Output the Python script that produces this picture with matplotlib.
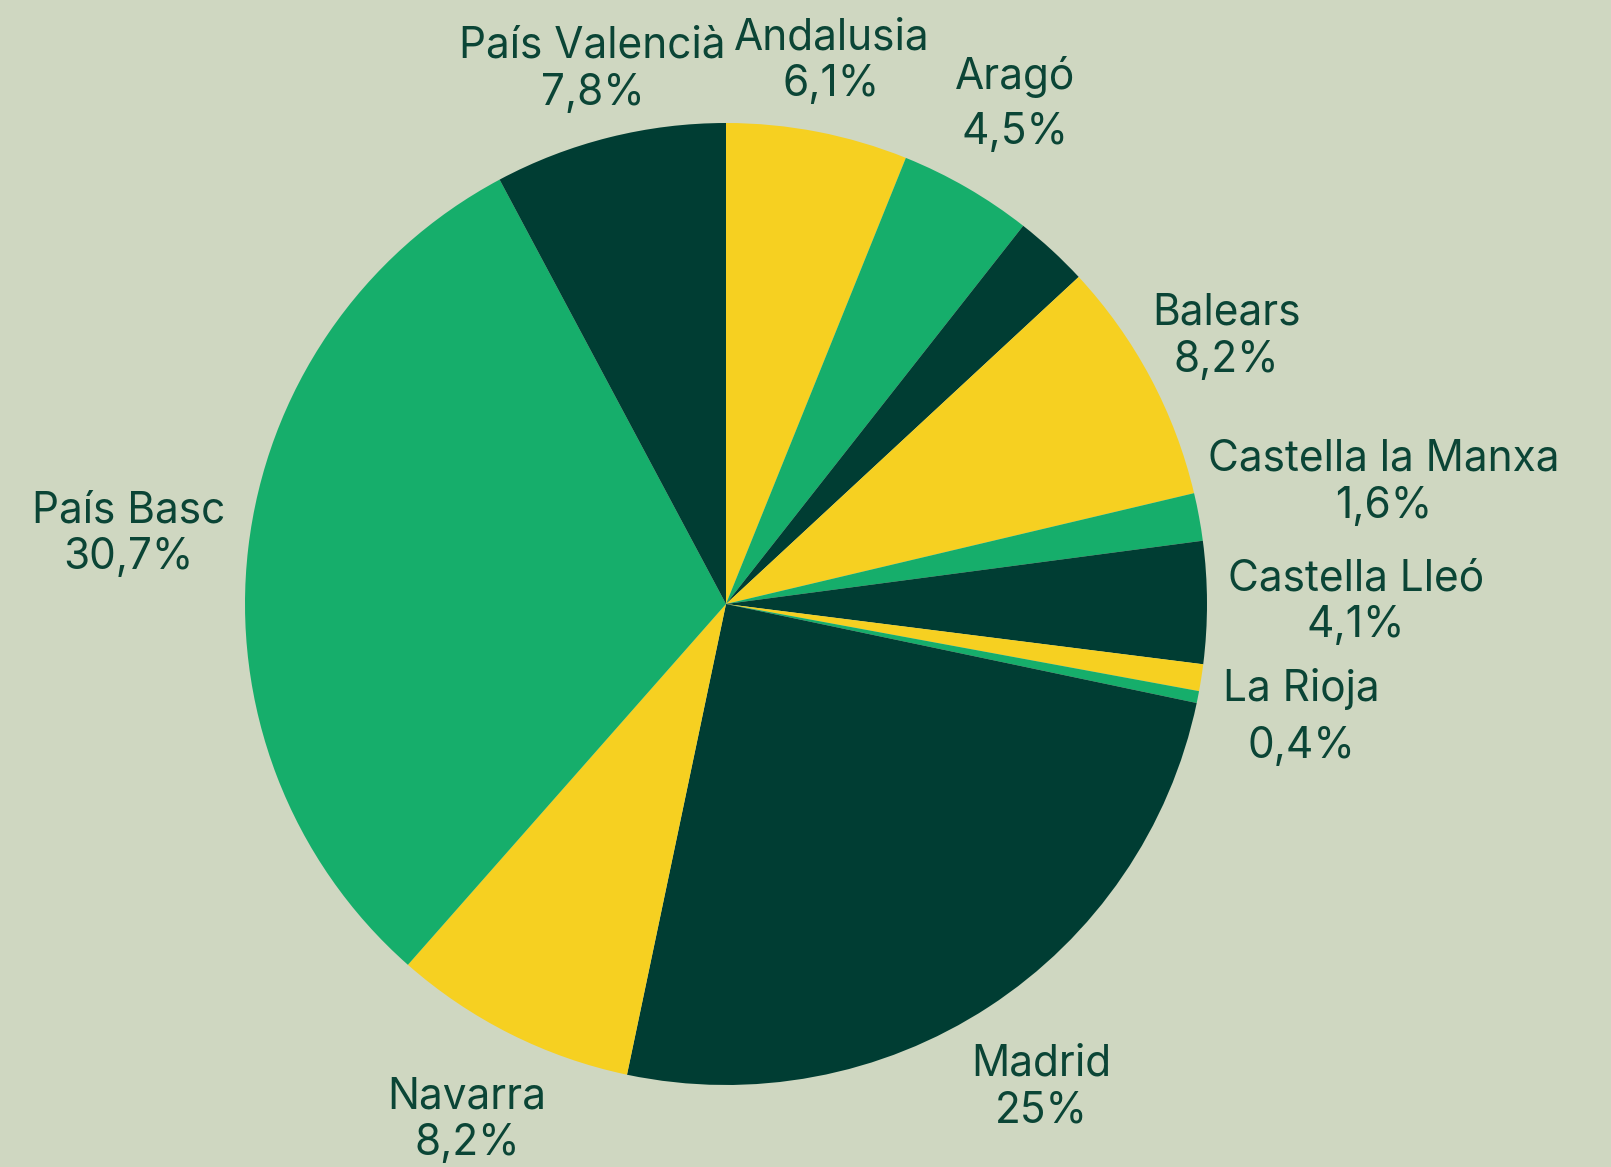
import matplotlib.pyplot as plt
import numpy as np

# slices clockwise from 12 o'clock; "" = unlabelled slice
regions = ["Andalusia", "Aragó", "", "Balears", "Castella la Manxa",
           "Castella Lleó", "", "La Rioja", "Madrid", "Navarra",
           "País Basc", "País Valencià"]
shares = [6.1, 4.5, 2.5, 8.2, 1.6, 4.1, 0.9, 0.4, 25.0, 8.2, 30.7, 7.8]
share_text = ["6,1%", "4,5%", "", "8,2%", "1,6%", "4,1%", "", "0,4%",
              "25%", "8,2%", "30,7%", "7,8%"]

DARK, GREEN, YELLOW = "#003d33", "#16ae6b", "#f6d021"
BG, INK = "#cfd7c1", "#0b4536"
colors = [YELLOW, GREEN, DARK, YELLOW, GREEN, DARK, YELLOW, GREEN,
          DARK, YELLOW, GREEN, DARK]
# label distance from centre (pie radii) and line spacing per label
label_r = [1.15, 1.20, 0, 1.18, 1.39, 1.31, 0, 1.22, 1.20, 1.20, 1.25, 1.145]
label_ls = [1.18, 1.45, 0, 1.18, 1.18, 1.18, 0, 1.5, 1.18, 1.18, 1.18, 1.18]

plt.rcParams["font.family"] = ["Inter", "DejaVu Sans"]

W, H = 1611, 1167
fig = plt.figure(figsize=(W / 100, H / 100), dpi=100, facecolor=BG)
cx, cy, R = 726, 604, 481
ax = fig.add_axes([(cx - R) / W, (H - cy - R) / H, 2 * R / W, 2 * R / H])
ax.set_facecolor(BG)

wedges, _ = ax.pie(shares, colors=colors, startangle=90, counterclock=False,
                   radius=1, wedgeprops=dict(linewidth=0))
ax.set_xlim(-1, 1)
ax.set_ylim(-1, 1)
ax.axis("off")

for w, name, pct, r, ls in zip(wedges, regions, share_text, label_r, label_ls):
    if not name:
        continue
    mid = np.deg2rad((w.theta1 + w.theta2) / 2)
    ax.text(r * np.cos(mid), r * np.sin(mid), f"{name}\n{pct}",
            ha="center", va="center", fontsize=30.5, color=INK,
            linespacing=ls, clip_on=False)

fig.savefig("out.png", dpi=100, facecolor=BG)
